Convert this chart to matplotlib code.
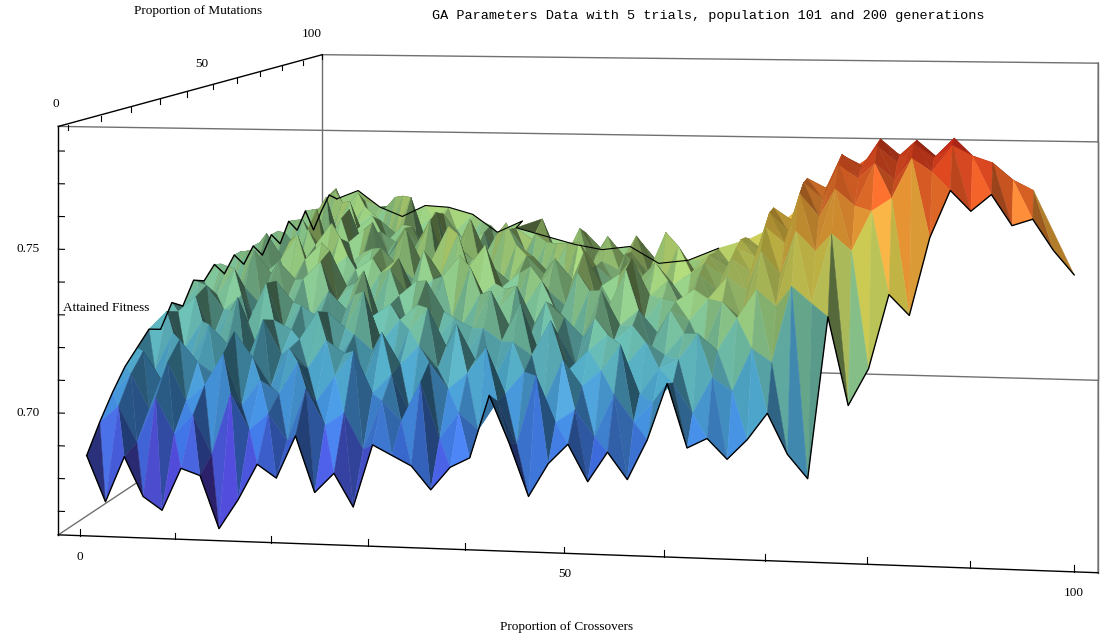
import numpy as np
import matplotlib
matplotlib.use("Agg")
import matplotlib.pyplot as plt
from matplotlib.colors import LinearSegmentedColormap, Normalize
from mpl_toolkits.mplot3d.art3d import Poly3DCollection

##
# GA parameter sweep: attained fitness per (crossover %, mutation %)
# only c + m <= 100 was run, so each mutation row is shorter than the last
crossovers = list(range(0, 101, 2))
mutations = list(range(0, 101, 4))

fit_m000 = [0.686, 0.672, 0.686, 0.674, 0.670, 0.683, 0.681, 0.665, 0.674, 0.685,
            0.681, 0.694, 0.677, 0.683, 0.673, 0.692, 0.689, 0.686, 0.679, 0.686,
            0.689, 0.708, 0.694, 0.678, 0.688, 0.694, 0.683, 0.692, 0.684, 0.696,
            0.713, 0.694, 0.697, 0.691, 0.697, 0.705, 0.693, 0.686, 0.734, 0.708,
            0.719, 0.741, 0.735, 0.758, 0.772, 0.766, 0.771, 0.762, 0.764, 0.755, 0.748]
fit_m004 = [0.694, 0.699, 0.688, 0.702, 0.691, 0.697, 0.685, 0.704, 0.693, 0.698,
            0.690, 0.706, 0.695, 0.699, 0.688, 0.703, 0.697, 0.709, 0.692, 0.700,
            0.695, 0.704, 0.691, 0.712, 0.698, 0.702, 0.694, 0.707, 0.699, 0.705,
            0.711, 0.702, 0.713, 0.709, 0.722, 0.718, 0.741, 0.736, 0.757, 0.752,
            0.764, 0.768, 0.780, 0.776, 0.784, 0.781, 0.779, 0.774, 0.771]
fit_m008 = [0.701, 0.707, 0.696, 0.711, 0.699, 0.704, 0.714, 0.698, 0.706, 0.702,
            0.712, 0.700, 0.708, 0.716, 0.703, 0.709, 0.697, 0.713, 0.705, 0.710,
            0.718, 0.704, 0.711, 0.701, 0.715, 0.707, 0.712, 0.720, 0.705, 0.713,
            0.716, 0.724, 0.719, 0.729, 0.738, 0.733, 0.756, 0.750, 0.769, 0.764,
            0.777, 0.772, 0.783, 0.779, 0.785, 0.778, 0.775]
fit_m012 = [0.707, 0.712, 0.703, 0.716, 0.709, 0.705, 0.719, 0.711, 0.702, 0.714,
            0.708, 0.717, 0.713, 0.704, 0.720, 0.710, 0.716, 0.709, 0.723, 0.712,
            0.706, 0.718, 0.714, 0.725, 0.710, 0.716, 0.721, 0.712, 0.719, 0.715,
            0.722, 0.717, 0.732, 0.727, 0.748, 0.741, 0.766, 0.759, 0.775, 0.771,
            0.781, 0.776, 0.783, 0.778, 0.779]
fit_m016 = [0.711, 0.704, 0.716, 0.708, 0.719, 0.713, 0.706, 0.721, 0.710, 0.715,
            0.724, 0.709, 0.717, 0.712, 0.705, 0.719, 0.726, 0.714, 0.711, 0.720,
            0.716, 0.728, 0.713, 0.719, 0.709, 0.724, 0.717, 0.722, 0.715, 0.727,
            0.724, 0.731, 0.738, 0.734, 0.754, 0.749, 0.768, 0.763, 0.777, 0.773,
            0.782, 0.777, 0.775]
fit_m020 = [0.715, 0.721, 0.709, 0.718, 0.713, 0.726, 0.711, 0.719, 0.716, 0.708,
            0.722, 0.717, 0.729, 0.713, 0.720, 0.725, 0.714, 0.721, 0.718, 0.730,
            0.719, 0.713, 0.727, 0.722, 0.716, 0.731, 0.720, 0.725, 0.718, 0.728,
            0.732, 0.727, 0.742, 0.738, 0.757, 0.751, 0.768, 0.765, 0.775, 0.772,
            0.778]
fit_m024 = [0.713, 0.719, 0.724, 0.711, 0.720, 0.716, 0.729, 0.714, 0.722, 0.718,
            0.712, 0.726, 0.719, 0.723, 0.716, 0.731, 0.721, 0.717, 0.727, 0.722,
            0.730, 0.718, 0.724, 0.715, 0.729, 0.723, 0.736, 0.720, 0.727, 0.724,
            0.735, 0.730, 0.744, 0.741, 0.757, 0.753, 0.765, 0.761, 0.769]
fit_m028 = [0.720, 0.714, 0.726, 0.718, 0.723, 0.711, 0.728, 0.721, 0.716, 0.725,
            0.719, 0.732, 0.715, 0.724, 0.729, 0.720, 0.717, 0.734, 0.722, 0.727,
            0.721, 0.730, 0.718, 0.733, 0.725, 0.722, 0.738, 0.726, 0.731, 0.724,
            0.737, 0.733, 0.745, 0.741, 0.754, 0.750, 0.760]
fit_m032 = [0.717, 0.725, 0.721, 0.730, 0.715, 0.724, 0.719, 0.727, 0.733, 0.720,
            0.726, 0.718, 0.731, 0.723, 0.716, 0.729, 0.736, 0.722, 0.727, 0.719,
            0.733, 0.725, 0.720, 0.738, 0.727, 0.731, 0.723, 0.735, 0.728, 0.732,
            0.738, 0.734, 0.744, 0.740, 0.749]
fit_m036 = [0.724, 0.718, 0.729, 0.722, 0.716, 0.731, 0.725, 0.720, 0.735, 0.723,
            0.719, 0.728, 0.733, 0.721, 0.726, 0.717, 0.730, 0.738, 0.724, 0.729,
            0.722, 0.734, 0.727, 0.731, 0.720, 0.736, 0.729, 0.725, 0.739, 0.730,
            0.737, 0.733, 0.742]
fit_m040 = [0.722, 0.728, 0.717, 0.733, 0.725, 0.720, 0.730, 0.736, 0.719, 0.727,
            0.731, 0.723, 0.718, 0.734, 0.726, 0.740, 0.722, 0.729, 0.724, 0.733,
            0.727, 0.721, 0.738, 0.730, 0.725, 0.735, 0.728, 0.742, 0.726, 0.733,
            0.737]
fit_m044 = [0.726, 0.719, 0.731, 0.723, 0.728, 0.737, 0.721, 0.725, 0.730, 0.718,
            0.733, 0.727, 0.722, 0.729, 0.741, 0.724, 0.728, 0.720, 0.735, 0.731,
            0.725, 0.736, 0.722, 0.730, 0.727, 0.739, 0.729, 0.734, 0.731]
fit_m048 = [0.721, 0.729, 0.724, 0.716, 0.733, 0.727, 0.720, 0.735, 0.725, 0.731,
            0.723, 0.738, 0.726, 0.719, 0.732, 0.728, 0.724, 0.741, 0.727, 0.722,
            0.734, 0.729, 0.725, 0.737, 0.730, 0.735, 0.728]
fit_m052 = [0.726, 0.719, 0.734, 0.725, 0.721, 0.730, 0.738, 0.723, 0.728, 0.717,
            0.731, 0.726, 0.740, 0.722, 0.729, 0.724, 0.735, 0.727, 0.720, 0.733,
            0.726, 0.738, 0.729, 0.724, 0.732]
fit_m056 = [0.721, 0.729, 0.723, 0.716, 0.734, 0.726, 0.731, 0.720, 0.737, 0.725,
            0.719, 0.732, 0.727, 0.723, 0.739, 0.726, 0.730, 0.718, 0.734, 0.728,
            0.724, 0.735, 0.729]
fit_m060 = [0.726, 0.719, 0.731, 0.724, 0.740, 0.721, 0.728, 0.733, 0.717, 0.729,
            0.725, 0.736, 0.722, 0.730, 0.727, 0.719, 0.734, 0.726, 0.738, 0.724,
            0.729]
fit_m064 = [0.721, 0.730, 0.717, 0.728, 0.724, 0.735, 0.719, 0.729, 0.723, 0.732,
            0.726, 0.738, 0.722, 0.727, 0.731, 0.720, 0.733]
fit_m068 = [0.727, 0.720, 0.733, 0.724, 0.718, 0.737, 0.722, 0.729, 0.725, 0.731,
            0.723, 0.736, 0.728, 0.719, 0.732, 0.726, 0.734]
fit_m072 = [0.722, 0.731, 0.725, 0.740, 0.721, 0.728, 0.733, 0.724, 0.730, 0.719,
            0.735, 0.727, 0.723, 0.732, 0.728]
fit_m076 = [0.729, 0.721, 0.734, 0.726, 0.737, 0.723, 0.730, 0.725, 0.739, 0.722,
            0.731, 0.727, 0.733]
fit_m080 = [0.724, 0.732, 0.720, 0.735, 0.727, 0.731, 0.722, 0.738, 0.726, 0.730, 0.734]
fit_m084 = [0.730, 0.723, 0.738, 0.725, 0.732, 0.721, 0.736, 0.728, 0.733]
fit_m088 = [0.721, 0.734, 0.728, 0.736, 0.724, 0.731, 0.727]
fit_m092 = [0.727, 0.736, 0.723, 0.731, 0.729]
fit_m096 = [0.732, 0.725, 0.734]
fit_m100 = [0.729]

fit_rows = [fit_m000, fit_m004, fit_m008, fit_m012, fit_m016, fit_m020, fit_m024, fit_m028, fit_m032,
            fit_m036, fit_m040, fit_m044, fit_m048, fit_m052, fit_m056, fit_m060, fit_m064, fit_m068,
            fit_m072, fit_m076, fit_m080, fit_m084, fit_m088, fit_m092, fit_m096, fit_m100]

cross_ticks = list(range(0, 101, 10))
cross_labels = [0, 50, 100]
mut_ticks = list(range(0, 101, 10))
mut_labels = [0, 50, 100]
fit_ticks = [0.67, 0.68, 0.69, 0.70, 0.71, 0.72, 0.73, 0.74, 0.75, 0.76, 0.77, 0.78]
fit_labels = [0.70, 0.75]

title = "GA Parameters Data with 5 trials, population 101 and 200 generations"

# plot box
CMIN, CMAX = -2.3, 102.3
MMIN, MMAX = -2.0, 101.0
ZMIN, ZMAX = 0.6628, 0.7875

# camera (worked out from the box corners of the picture)
CAM_C, CAM_M, CAM_Z = 102.35, -289.2, 0.8738
YAW = 8.56          # degrees
KZ = 333.2          # length units per unit of fitness
FOCAL = 0.32
DIST = 400.0

W, H = 1111, 641
fig = plt.figure(figsize=(W / 100, H / 100), dpi=100)
ax = fig.add_axes([0, 0, 1, 1], projection='3d', computed_zorder=False)
ax.set_axis_off()
ax.set_proj_type('persp', focal_length=FOCAL)
ax.view_init(elev=0, azim=-90 + YAW, roll=0)

yaw = np.deg2rad(YAW)
look = np.array([-np.sin(yaw), np.cos(yaw)])
rc = CAM_C + DIST * look[0]
rm = CAM_M + DIST * look[1]
hx, hy, hz = 80.0, 140.0, CAM_Z - ZMIN
ax.set_xlim(rc - hx, rc + hx)
ax.set_ylim(rm - hy, rm + hy)
ax.set_zlim(CAM_Z - hz, CAM_Z + hz)
aspect = (2 * hx, 2 * hy, 2 * hz * KZ)
ax.set_box_aspect(aspect)
sn1 = np.asarray(ax.get_box_aspect())[0] / (2 * hx)
sn = getattr(ax, '_dist', 10) * FOCAL / DIST
ax.set_box_aspect(aspect, zoom=sn / sn1)

# place the axes so the front face lands where it is in the picture
M = ax.get_proj()
def proj2d(c, m, z):
    v = M @ np.array([c, m, z, 1.0])
    return v[0] / v[3], v[1] / v[3]

vx0, vx1 = ax.viewLim.intervalx
vy0, vy1 = ax.viewLim.intervaly
xa, _ = proj2d(0, MMIN, ZMIN)
xb, _ = proj2d(100, MMIN, ZMIN)
_, yc = proj2d(CMIN, MMIN, 0.70)
S = (1074 - 80) / ((xb - xa) / (vx1 - vx0))
L = 80 - (xa - vx0) / (vx1 - vx0) * S
B = (H - 413) - (yc - vy0) / (vy1 - vy0) * S
ax.set_position([L / W, B / H, S / W, S / H])

def to_fig(c, m, z, dx=0, dy=0):
    px, py = ax.transData.transform(proj2d(c, m, z))
    return (px + dx) / W, (py + dy) / H

# surface points and triangles
pts = []
index = {}
for j, row in enumerate(fit_rows):
    for i, val in enumerate(row):
        index[(i, j)] = len(pts)
        pts.append((crossovers[i], mutations[j], val))
pts = np.array(pts)

tris = []
for j in range(len(fit_rows) - 1):
    n0 = len(fit_rows[j])
    n1 = len(fit_rows[j + 1])
    for i in range(n0 - 1):
        a = index[(i, j)]
        b = index[(i + 1, j)]
        if i < n1:
            c = index[(i, j + 1)]
        else:
            c = index[(n1 - 1, j + 1)]
        tris.append((a, b, c))
        if i + 1 < n1:
            tris.append((b, index[(i + 1, j + 1)], c))
tris = np.array(tris)

phys = pts.copy()
phys[:, 2] = (phys[:, 2] - ZMIN) * KZ
nrm = np.cross(phys[tris[:, 1]] - phys[tris[:, 0]], phys[tris[:, 2]] - phys[tris[:, 0]])
nrm /= np.linalg.norm(nrm, axis=1, keepdims=True)
nrm[nrm[:, 2] < 0] *= -1
light = np.array([-0.3, -0.6, 0.75])
light /= np.linalg.norm(light)
view = np.array([0.1, -0.95, 0.3])
view /= np.linalg.norm(view)
half = (light + view) / np.linalg.norm(light + view)
diff = np.clip(nrm @ light, 0, None)
spec = np.clip(nrm @ half, 0, None) ** 30

stops = [(0.665, (0.45, 0.22, 0.90)), (0.680, (0.35, 0.30, 0.92)), (0.690, (0.25, 0.45, 0.90)),
         (0.700, (0.27, 0.58, 0.88)), (0.710, (0.32, 0.68, 0.80)), (0.720, (0.45, 0.76, 0.66)),
         (0.730, (0.62, 0.82, 0.50)), (0.740, (0.80, 0.86, 0.40)), (0.750, (0.93, 0.84, 0.30)),
         (0.760, (0.97, 0.64, 0.22)), (0.770, (0.95, 0.42, 0.16)), (0.785, (0.85, 0.16, 0.10))]
lo, hi = stops[0][0], stops[-1][0]
cmap = LinearSegmentedColormap.from_list(
    'ga', [((v - lo) / (hi - lo), col) for v, col in stops])
norm = Normalize(lo, hi)
zmean = pts[tris, 2].mean(axis=1)
base = cmap(norm(zmean))[:, :3]
shade = 0.42 + 0.62 * diff
cols = np.clip(base * shade[:, None] + 0.10 * spec[:, None], 0, 1)

verts = pts[tris]
surf = Poly3DCollection(verts, facecolors=cols, edgecolors=cols, linewidths=0.3, zorder=2)
ax.add_collection3d(surf)

# outline of the surface
front = np.array([(crossovers[i], 0, v) for i, v in enumerate(fit_m000)])
ax.plot(front[:, 0], front[:, 1], front[:, 2], color='black', lw=1.0, zorder=3)
left = np.array([(0, mutations[j], row[0]) for j, row in enumerate(fit_rows)])
ax.plot(left[:, 0], left[:, 1], left[:, 2], color='black', lw=1.0, zorder=3)
edge = np.array([(crossovers[len(row) - 1], mutations[j], row[-1])
                 for j, row in enumerate(fit_rows) if mutations[j] >= 40])
ax.plot(edge[:, 0], edge[:, 1], edge[:, 2], color='black', lw=0.8, zorder=3)

# box
gray = '#707070'
box_lines = [
    ((CMIN, CMAX), (MMIN, MMIN), (ZMAX, ZMAX)),
    ((CMIN, CMAX), (MMAX, MMAX), (ZMAX, ZMAX)),
    ((CMAX, CMAX), (MMIN, MMAX), (ZMAX, ZMAX)),
    ((CMIN, CMIN), (MMAX, MMAX), (ZMIN, ZMAX)),
    ((CMAX, CMAX), (MMAX, MMAX), (ZMIN, ZMAX)),
    ((CMAX, CMAX), (MMIN, MMIN), (ZMIN, ZMAX)),
    ((CMIN, CMAX), (MMAX, MMAX), (ZMIN, ZMIN)),
    ((CMAX, CMAX), (MMIN, MMAX), (ZMIN, ZMIN)),
    ((CMIN, CMIN), (MMIN, MMAX), (ZMIN, ZMIN)),
]
for xs, ys, zs in box_lines:
    ax.plot(xs, ys, zs, color=gray, lw=1.0, zorder=1)

axis_lines = [
    ((CMIN, CMAX), (MMIN, MMIN), (ZMIN, ZMIN)),
    ((CMIN, CMIN), (MMIN, MMIN), (ZMIN, ZMAX)),
    ((CMIN, CMIN), (MMIN, MMAX), (ZMAX, ZMAX)),
]
for xs, ys, zs in axis_lines:
    ax.plot(xs, ys, zs, color='black', lw=1.0, zorder=4)

for c in cross_ticks:
    ax.plot((c, c), (MMIN, MMIN), (ZMIN, ZMIN + 0.002), color='black', lw=0.8, zorder=4)
for m in mut_ticks:
    ax.plot((CMIN + 0.3, CMIN + 0.3), (m, m), (ZMAX, ZMAX - 0.0016), color='black', lw=0.8, zorder=4)
for z in fit_ticks:
    ax.plot((CMIN, CMIN + 0.65), (MMIN, MMIN), (z, z), color='black', lw=0.8, zorder=4)

serif = 'Liberation Serif'
for c in cross_labels:
    x, y = to_fig(c, MMIN, ZMIN, dy=-21)
    fig.text(x, y, str(c), ha='center', va='center', family=serif, fontsize=9.5)
for m in mut_labels:
    x, y = to_fig(CMIN, m, ZMAX, dx=-9, dy=21)
    fig.text(x, y, str(m), ha='center', va='center', family=serif, fontsize=9.5)
for z in fit_labels:
    x, y = to_fig(CMIN, MMIN, z, dx=-19)
    fig.text(x, y, "%.2f" % z, ha='right', va='center', family=serif, fontsize=9.5)

fig.text(198 / W, 1 - 11 / H, "Proportion of Mutations", ha='center', va='center',
         family=serif, fontsize=9.5)
fig.text(63 / W, 1 - 308 / H, "Attained Fitness", ha='left', va='center',
         family=serif, fontsize=9.5)
fig.text(567 / W, 1 - 627 / H, "Proportion of Crossovers", ha='center', va='center',
         family=serif, fontsize=9.5)
fig.text(708 / W, 1 - 16 / H, title, ha='center', va='center',
         family='Liberation Mono', fontsize=9.7)

fig.savefig("out.png", dpi=100)
